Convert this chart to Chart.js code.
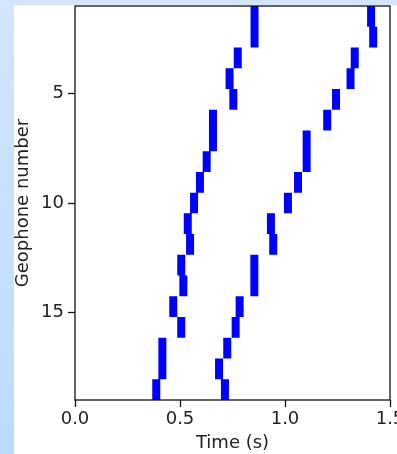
<!DOCTYPE html>
<html>
<head>
<meta charset="utf-8">
<script src="https://cdn.jsdelivr.net/npm/chart.js@4"></script>
<style>
    html, body { margin: 0; padding: 0; }
    body {
        width: 397px;
        height: 454px;
        overflow: hidden;
        background: linear-gradient(#d3e6fb, #bcdbfc);
        position: relative;
    }
    #panel {
        position: absolute;
        left: 14px;
        top: 5px;
        width: 383px;
        height: 449px;
        background: #fff;
        overflow: hidden;
    }
    #wrap { width: 400px; height: 449px; }
</style>
</head>
<body>
<div id="panel"><div id="wrap"><canvas id="picksChart"></canvas></div></div>
<script>
// 지오폰 번호와 도달 시간 (s)
const geophones = [1, 2, 3, 4, 5, 6, 7, 8, 9, 10, 11, 12, 13, 14, 15, 16, 17, 18, 19];
const firstPick = [0.855, 0.855, 0.775, 0.736, 0.754, 0.657, 0.657, 0.627, 0.595, 0.567,
    0.537, 0.548, 0.506, 0.516, 0.468, 0.506, 0.416, 0.416, 0.387];
const secondPick = [1.410, 1.420, 1.332, 1.312, 1.243, 1.201, 1.103, 1.103, 1.062, 1.014,
    0.933, 0.944, 0.854, 0.854, 0.784, 0.765, 0.725, 0.686, 0.714];
const yTicks = [5, 10, 15];
const xTicks = [0.0, 0.5, 1.0, 1.5];

const yMin = 1;
const yMax = 19;

// 각 지오폰은 축 범위를 균등하게 나눈 한 칸을 차지
function segments(times) {
    const rowH = (yMax - yMin) / geophones.length;
    const pts = [];
    geophones.forEach(function(g, i) {
        const top = yMin + (g - 1) * rowH;
        pts.push({ x: times[i], y: top });
        pts.push({ x: times[i], y: top + rowH });
        pts.push({ x: times[i], y: null });
    });
    return pts;
}

const font = { family: 'DejaVu Sans', size: 18 };

// 네 면 테두리
const frame = {
    id: 'frame',
    afterDraw(chart) {
        const a = chart.chartArea;
        const ctx = chart.ctx;
        ctx.save();
        ctx.strokeStyle = '#111';
        ctx.lineWidth = 1.3;
        ctx.strokeRect(a.left, a.top, a.right - a.left, a.bottom - a.top);
        ctx.restore();
    }
};

const ctx = document.getElementById('picksChart').getContext('2d');
new Chart(ctx, {
    type: 'scatter',
    data: {
        datasets: [
            {
                data: segments(firstPick),
                showLine: true,
                borderColor: '#0000ff',
                borderWidth: 8,
                borderCapStyle: 'butt',
                pointRadius: 0,
                spanGaps: false
            },
            {
                data: segments(secondPick),
                showLine: true,
                borderColor: '#0000ff',
                borderWidth: 8,
                borderCapStyle: 'butt',
                pointRadius: 0,
                spanGaps: false
            }
        ]
    },
    options: {
        responsive: true,
        maintainAspectRatio: false,
        animation: false,
        layout: { padding: { top: 1, right: 24, bottom: 0, left: 0 } },
        plugins: {
            legend: { display: false },
            tooltip: { enabled: false }
        },
        scales: {
            x: {
                type: 'linear',
                min: 0,
                max: 1.5,
                afterBuildTicks: function(scale) {
                    scale.ticks = xTicks.map(function(v) { return { value: v }; });
                },
                afterFit: function(scale) {
                    scale.height = 54;
                    scale.paddingLeft = 0;
                    scale.paddingRight = 0;
                },
                border: { display: false },
                grid: {
                    drawOnChartArea: false,
                    tickLength: 7,
                    tickWidth: 1.3,
                    tickColor: '#111'
                },
                ticks: {
                    color: '#222',
                    font: font,
                    padding: 2,
                    maxRotation: 0,
                    callback: function(v) { return v.toFixed(1); }
                },
                title: {
                    display: true,
                    text: 'Time (s)',
                    color: '#222',
                    font: font,
                    padding: { top: 0, bottom: 0 }
                }
            },
            y: {
                type: 'linear',
                min: yMin,
                max: yMax,
                reverse: true,
                afterBuildTicks: function(scale) {
                    scale.ticks = yTicks.map(function(v) { return { value: v }; });
                },
                afterFit: function(scale) {
                    scale.width = 61;
                    scale.paddingTop = 0;
                    scale.paddingBottom = 0;
                },
                border: { display: false },
                grid: {
                    drawOnChartArea: false,
                    tickLength: 7,
                    tickWidth: 1.3,
                    tickColor: '#111'
                },
                ticks: {
                    color: '#222',
                    font: font,
                    padding: 4
                },
                title: {
                    display: true,
                    text: 'Geophone number',
                    color: '#222',
                    font: { family: 'DejaVu Sans', size: 18, lineHeight: 1 },
                    padding: { top: 0, bottom: 0 }
                }
            }
        }
    },
    plugins: [frame]
});
</script>
</body>
</html>
